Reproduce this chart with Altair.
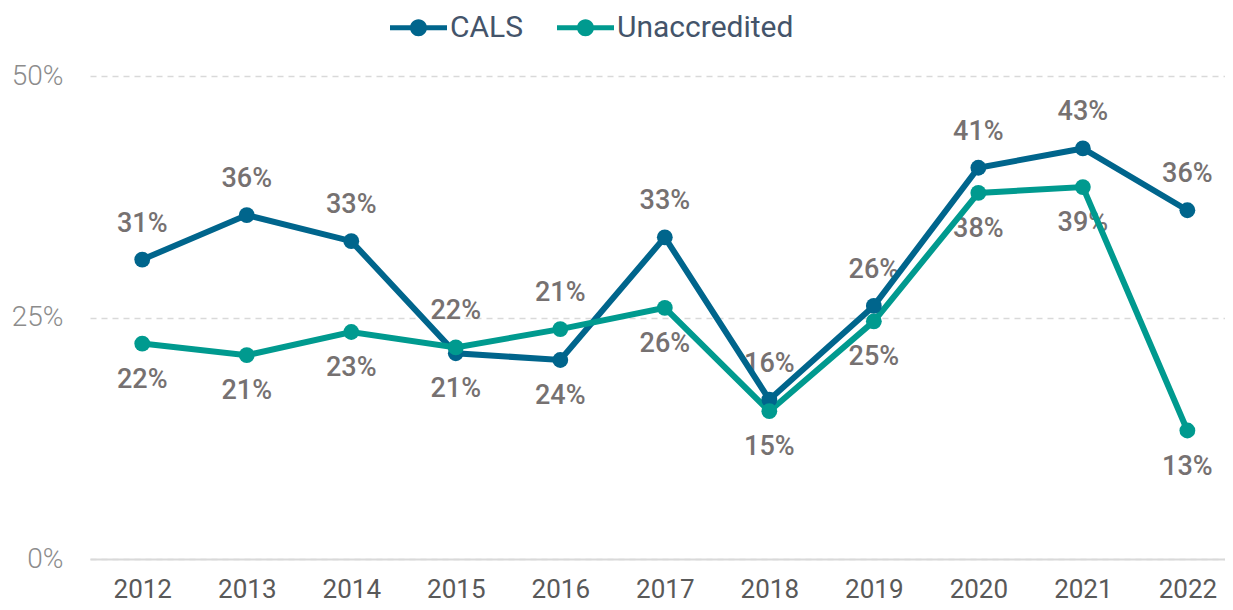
import altair as alt
import pandas as pd

years = [2012, 2013, 2014, 2015, 2016, 2017, 2018, 2019, 2020, 2021, 2022]
series_names = ["CALS", "Unaccredited"]
cals = [31.0, 35.6, 32.9, 21.3, 20.6, 33.3, 16.5, 26.2, 40.5, 42.5, 36.1]
unaccredited = [22.3, 21.1, 23.5, 21.9, 23.8, 26.0, 15.3, 24.6, 37.9, 38.5, 13.3]
cals_labels = ["31%", "36%", "33%", "21%", "21%", "33%", "16%", "26%", "41%", "43%", "36%"]
unacc_labels = ["22%", "21%", "23%", "22%", "24%", "26%", "15%", "25%", "38%", "39%", "13%"]
cals_label_side = ["above", "above", "above", "below", "above", "above", "above", "above", "above", "above", "above"]
unacc_label_side = ["below", "below", "below", "above", "below", "below", "below", "below", "below", "below", "below"]
y_ticks = [0, 25, 50]

rows = []
for i, yr in enumerate(years):
    rows.append({"year": yr, "series": "CALS", "value": cals[i], "label": cals_labels[i], "side": cals_label_side[i]})
    rows.append({"year": yr, "series": "Unaccredited", "value": unaccredited[i], "label": unacc_labels[i], "side": unacc_label_side[i]})
df = pd.DataFrame(rows)

colors = ["#00658c", "#009a8f"]
color_scale = alt.Scale(domain=series_names, range=colors)

legend_symbol = (
    "M-1,-0.09 H-0.28 V0.09 H-1 Z "
    "M0.28,-0.09 H1 V0.09 H0.28 Z "
    "M0.3,0 A0.3,0.3 0 1,1 -0.3,0 A0.3,0.3 0 1,1 0.3,0 Z"
)
legend = alt.Legend(
    title=None, orient="none", direction="horizontal", legendX=300, legendY=-77,
    symbolType=legend_symbol, symbolSize=3249, symbolStrokeWidth=0,
    labelFont="Roboto", labelFontSize=30, labelColor="#44546a", labelLimit=400,
    columnPadding=33, labelOffset=3,
)

x_axis = alt.Axis(title=None, values=years, format="d", grid=False, ticks=False,
                  domain=True, domainColor="#d9d9d9", domainWidth=2,
                  labelFont="Roboto", labelFontSize=26, labelColor="#595959",
                  labelPadding=17)
y_axis = alt.Axis(title=None, values=y_ticks, labelExpr="datum.value + '%'",
                  grid=True, gridDash=[6, 5], gridColor="#d9d9d9", gridWidth=1.5,
                  domain=False, ticks=False, labelFont="Roboto", labelFontSize=28,
                  labelFontWeight=300, labelColor="#8c8c8c", labelPadding=27)
x_scale = alt.Scale(domain=[2011.5, 2022.36], nice=False, zero=False)
y_scale = alt.Scale(domain=[0, 50], nice=False)

x = alt.X("year:Q", scale=x_scale, axis=x_axis)
y = alt.Y("value:Q", scale=y_scale, axis=y_axis)

base = alt.Chart(df)
lines = base.mark_line(strokeWidth=6).encode(
    x=x, y=y, color=alt.Color("series:N", scale=color_scale, legend=legend),
    detail="series:N")
points = base.mark_point(filled=True, size=250, opacity=1).encode(
    x=x, y=y, color=alt.Color("series:N", scale=color_scale, legend=legend))

labels_base = base.transform_joinaggregate(
    vmax="max(value)", vmin="min(value)", groupby=["year"]
).transform_calculate(
    anchor="datum.side == 'above' ? datum.vmax : datum.vmin"
)
label_style = dict(font="Roboto", fontSize=27, fontWeight=500, color="#767171",
                   baseline="middle", align="center")
y_anchor = alt.Y("anchor:Q", scale=y_scale, axis=y_axis)
labels_above = labels_base.transform_filter("datum.side == 'above'").mark_text(
    dy=-36, **label_style).encode(x=x, y=y_anchor, text="label:N")
labels_below = labels_base.transform_filter("datum.side == 'below'").mark_text(
    dy=36, **label_style).encode(x=x, y=y_anchor, text="label:N")

chart = alt.layer(labels_above, labels_below, lines, points).properties(
    width=1135, height=483,
    autosize=alt.AutoSizeParams(type="none"),
    padding={"left": 82, "top": 68, "right": 0, "bottom": 43},
).configure(background="white").configure_view(stroke=None)

chart.save("out.html", embed_options={"renderer": "svg", "actions": False})
